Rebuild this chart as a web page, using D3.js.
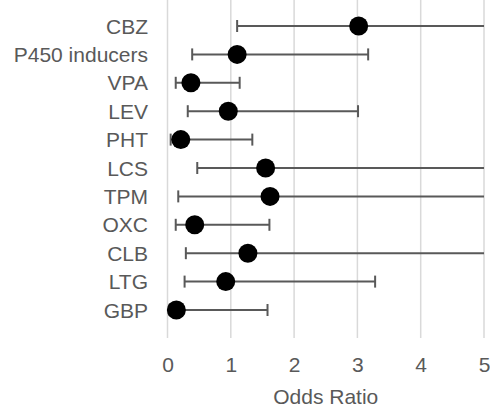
<!DOCTYPE html>
<html>
<head>
<meta charset="utf-8">
<script src="https://cdn.jsdelivr.net/npm/d3@7"></script>
<style>
  body { margin: 0; background: #fff; }
  text { font-family: "Liberation Sans", Arial, sans-serif; fill: #595959; }
</style>
</head>
<body>
<svg id="chart" width="490" height="406"></svg>
<script>
// data
let drugs = ["CBZ", "P450 inducers", "VPA", "LEV", "PHT", "LCS", "TPM", "OXC", "CLB", "LTG", "GBP"];
let oddsRatio = [3.02, 1.10, 0.37, 0.96, 0.21, 1.55, 1.62, 0.43, 1.27, 0.92, 0.14];
let lowerCI = [1.10, 0.39, 0.13, 0.32, 0.05, 0.47, 0.17, 0.13, 0.29, 0.27, 0.03];
let upperCI = [8.30, 3.17, 1.14, 3.01, 1.34, 6.10, 7.20, 1.61, 5.90, 3.28, 1.58];
let ticks = [0, 1, 2, 3, 4, 5];

// layout
let gridTop = 0;
let gridBottom = 338;
let capHalf = 6;
let markerRadius = 9.5;

let svg = d3.select("#chart");

let x = d3.scaleLinear()
    .domain([0, 5])
    .range([167.5, 484]);

let y = d3.scalePoint()
    .domain(drugs)
    .range([26, 310]);

let rows = drugs.map((d, i) => ({
  name: d,
  or: oddsRatio[i],
  lo: lowerCI[i],
  hi: upperCI[i]
}));

let [xMin, xMax] = x.domain();

// gridlines
svg.append("g")
    .selectAll("line")
    .data(ticks)
  .join("line")
    .attr("x1", d => x(d))
    .attr("x2", d => x(d))
    .attr("y1", gridTop)
    .attr("y2", gridBottom)
    .attr("stroke", "#d9d9d9")
    .attr("stroke-width", 1.5);

// x axis tick labels
let xAxis = d3.axisBottom(x)
    .tickValues(ticks)
    .tickFormat(d3.format("d"))
    .tickSize(0)
    .tickPadding(0);

let axisG = svg.append("g")
    .attr("transform", "translate(0,357)")
    .call(xAxis);

axisG.select(".domain").remove();
axisG.selectAll("text")
    .attr("dy", "0.71em")
    .style("font-size", "21px")
    .style("font-family", "'Liberation Sans', Arial, sans-serif")
    .attr("fill", "#595959");

// axis title
svg.append("text")
    .attr("x", (x(xMin) + x(xMax)) / 2)
    .attr("y", 404)
    .attr("text-anchor", "middle")
    .style("font-size", "21px")
    .text("Odds Ratio");

// category labels
svg.append("g")
    .selectAll("text")
    .data(drugs)
  .join("text")
    .attr("x", 148)
    .attr("y", d => y(d) + 7.5)
    .attr("text-anchor", "end")
    .style("font-size", "21px")
    .text(d => d);

// error bars
let bars = svg.append("g")
    .attr("stroke", "#595959")
    .attr("stroke-width", 2);

bars.selectAll("line.ci")
    .data(rows)
  .join("line")
    .attr("class", "ci")
    .attr("x1", d => x(Math.max(d.lo, xMin)))
    .attr("x2", d => x(Math.min(d.hi, xMax)))
    .attr("y1", d => y(d.name))
    .attr("y2", d => y(d.name));

// caps, only where the bound lies inside the axis range
let caps = [];
rows.forEach(d => {
  if (d.lo >= xMin) caps.push({name: d.name, v: d.lo});
  if (d.hi <= xMax) caps.push({name: d.name, v: d.hi});
});

bars.selectAll("line.cap")
    .data(caps)
  .join("line")
    .attr("class", "cap")
    .attr("x1", d => x(d.v))
    .attr("x2", d => x(d.v))
    .attr("y1", d => y(d.name) - capHalf)
    .attr("y2", d => y(d.name) + capHalf);

// markers
svg.append("g")
    .selectAll("circle")
    .data(rows)
  .join("circle")
    .attr("cx", d => x(d.or))
    .attr("cy", d => y(d.name))
    .attr("r", markerRadius)
    .attr("fill", "#000");
</script>
</body>
</html>
